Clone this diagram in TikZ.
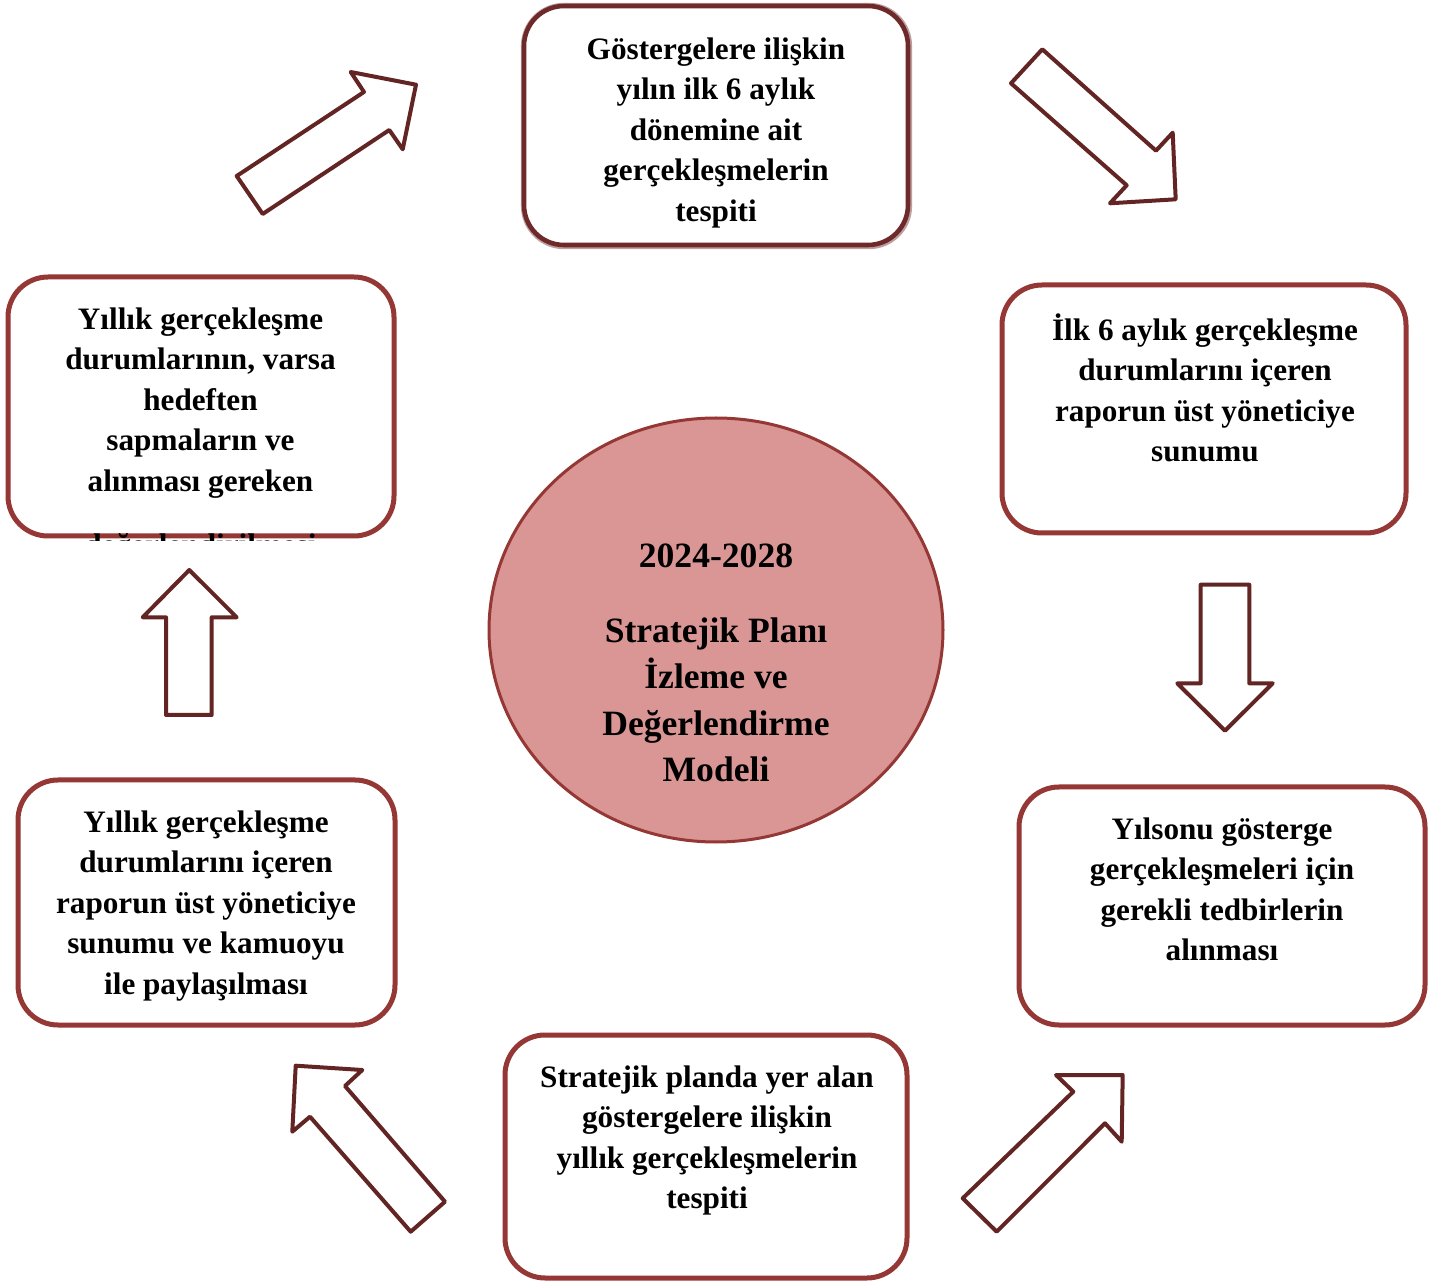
\documentclass[tikz,border=0pt]{standalone}
\usepackage{fontspec}
\setmainfont{Liberation Serif}
\usetikzlibrary{shapes.geometric}
\definecolor{boxred}{HTML}{953735}
\definecolor{topred}{HTML}{6E2A2A}
\definecolor{arrowred}{HTML}{632523}
\definecolor{circfill}{HTML}{D99694}
\begin{document}
\begin{tikzpicture}[x=0.5pt,y=-0.5pt,
  stagebox/.style={draw=boxred, line width=2.5pt, rounded corners=20pt, fill=white, inner sep=0pt, outer sep=0pt},
  stagetext/.style={anchor=north, align=center, inner sep=0pt, font=\bfseries\fontsize{15.6}{20.25}\selectfont},
  blockarrow/.style={draw=arrowred, line width=2pt, fill=white, line join=round},
  hub/.style={ellipse, draw=boxred, line width=1.5pt, fill=circfill, inner sep=0pt}]
\useasboundingbox (0,0) rectangle (1453,1283);

% boxes
\node[stagebox, draw=topred!45, line width=3.2pt, minimum width=192.4pt, minimum height=120pt] (topshadow) at (716.5,126) {};
\node[stagebox, draw=topred, line width=2.3pt, minimum width=192pt, minimum height=119.5pt] (top) at (716,125.5) {};
\node[stagebox, minimum width=202pt, minimum height=124pt] (right) at (1204,409) {};
\node[stagebox, minimum width=203pt, minimum height=119pt] (rbot) at (1222,906) {};
\node[stagebox, minimum width=201pt, minimum height=121.5pt] (bot) at (706,1156.5) {};
\node[stagebox, minimum width=188.5pt, minimum height=122.5pt] (lbot) at (206.5,902.5) {};
\node[stagebox, minimum width=193pt, minimum height=129.5pt] (ltop) at (201,406.5) {};

% hub
\node[hub, minimum width=227pt, minimum height=212pt] (hub) at (716,630) {};

% texts
\node[stagetext] (ttop) at (716,35) {\rule{0pt}{12pt}Göstergelere ilişkin\\yılın ilk 6 aylık\\dönemine ait\\gerçekleşmelerin\\tespiti};
\node[stagetext] (tright) at (1205,313) {\rule{0pt}{12pt}İlk 6 aylık gerçekleşme\\durumlarını içeren\\raporun üst yöneticiye\\sunumu};
\node[stagetext] (trbot) at (1222,815) {\rule{0pt}{12pt}Yılsonu gösterge\\gerçekleşmeleri için\\gerekli tedbirlerin\\alınması};
\node[stagetext] (tbot) at (707,1063) {\rule{0pt}{12pt}Stratejik planda yer alan\\göstergelere ilişkin\\yıllık gerçekleşmelerin\\tespiti};
\node[stagetext] (tlbot) at (206,808) {\rule{0pt}{12pt}Yıllık gerçekleşme\\durumlarını içeren\\raporun üst yöneticiye\\sunumu ve kamuoyu\\ile paylaşılması};
\node[stagetext] (tltop) at (200.5,305) {\rule{0pt}{12pt}Yıllık gerçekleşme\\durumlarının, varsa\\hedeften\\sapmaların ve\\alınması gereken};
\begin{scope}
  \clip (0,0) rectangle (1453,541);
  \node[stagetext, anchor=base] (tltopcut) at (200.5,556) {değerlendirilmesi};
\end{scope}

\node[anchor=north, align=center, inner sep=0pt, font=\bfseries\fontsize{17.8}{23.3}\selectfont] (thub) at (716,539.7)
  {\rule{0pt}{13.5pt}2024-2028\\[14.2pt]Stratejik Planı\\İzleme ve\\Değerlendirme\\Modeli};

% block arrows
\draw[blockarrow] (236.7,176) -- (364,92) -- (350.7,72) -- (416,84.7) -- (402.7,149.3) -- (389.3,130) -- (262.7,214) -- cycle;
\draw[blockarrow] (1042.3,49.3) -- (1156,150.7) -- (1172.7,132.7) -- (1175.7,199.3) -- (1110,203.3) -- (1126.7,185.3) -- (1011,83.3) -- cycle;
\draw[blockarrow] (1200.7,584.7) -- (1249.3,584.7) -- (1249.3,683.3) -- (1272.7,683.3) -- (1225,730.7) -- (1177.3,683.3) -- (1200.7,683.3) -- cycle;
\draw[blockarrow] (962.7,1198.3) -- (1073.3,1091.7) -- (1056,1075) -- (1122.7,1075) -- (1121.7,1141.7) -- (1105,1123.3) -- (996.7,1231.7) -- cycle;
\draw[blockarrow] (445,1201.7) -- (345,1086) -- (362.3,1070) -- (295.7,1065.7) -- (292.3,1131.7) -- (310,1116.7) -- (410.7,1231.7) -- cycle;
\draw[blockarrow] (189.3,570) -- (236.7,617.3) -- (211.7,617.3) -- (211.7,715) -- (166,715) -- (166,617.3) -- (142.7,617.3) -- cycle;
\end{tikzpicture}
\end{document}
